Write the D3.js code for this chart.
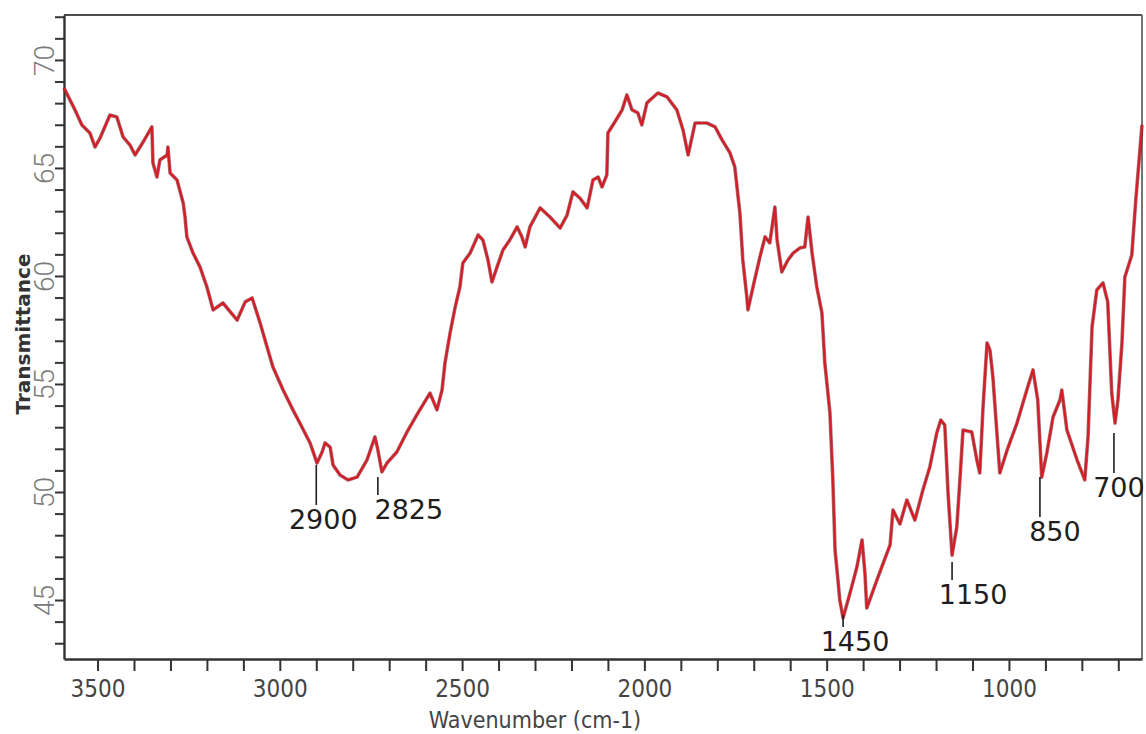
<!DOCTYPE html>
<html>
<head>
<meta charset="utf-8">
<script src="https://cdn.jsdelivr.net/npm/d3@7/dist/d3.min.js"></script>
<style>
  html, body { margin: 0; padding: 0; background: #fff; }
  svg { display: block; }
</style>
</head>
<body>
<script>
// FTIR spectrum: transmittance (%) against wavenumber (cm-1)
const wavenumber = [
  3592, 3562, 3543, 3521, 3507, 3493, 3466, 3447, 3430, 3411,
  3397, 3375, 3351, 3348, 3337, 3329, 3309, 3307, 3301, 3282,
  3265, 3260, 3255, 3238, 3219, 3200, 3183, 3156, 3117, 3095,
  3076, 3054, 3035, 3019, 2991, 2964, 2945, 2917, 2898, 2884,
  2876, 2862, 2854, 2835, 2813, 2788, 2761, 2739, 2731, 2720,
  2706, 2679, 2651, 2621, 2588, 2569, 2555, 2547, 2533, 2519,
  2506, 2498, 2478, 2456, 2443, 2429, 2418, 2404, 2388, 2369,
  2349, 2336, 2327, 2314, 2286, 2259, 2231, 2212, 2196, 2177,
  2157, 2141, 2127, 2116, 2103, 2100, 2081, 2061, 2048, 2034,
  2018, 2007, 1993, 1963, 1938, 1911, 1894, 1880, 1861, 1828,
  1806, 1787, 1765, 1752, 1746, 1738, 1730, 1719, 1716, 1702,
  1683, 1669, 1656, 1642, 1636, 1623, 1606, 1592, 1573, 1560,
  1551, 1540, 1527, 1513, 1505, 1491, 1483, 1477, 1469, 1464,
  1455, 1436, 1417, 1403, 1395, 1390, 1362, 1326, 1318, 1299,
  1280, 1258, 1236, 1217, 1198, 1187, 1176, 1167, 1156, 1143,
  1134, 1126, 1102, 1088, 1080, 1071, 1060, 1052, 1044, 1033,
  1025, 1005, 978, 951, 934, 921, 910, 896, 879, 860,
  855, 841, 813, 792, 783, 772, 759, 742, 729, 718,
  709, 701, 690, 682, 663, 652, 635
];
const transmittance = [
  68.70, 67.69, 66.99, 66.62, 65.97, 66.39, 67.45, 67.36, 66.44, 66.06,
  65.60, 66.20, 66.90, 65.23, 64.58, 65.37, 65.60, 65.97, 64.77, 64.44,
  63.38, 62.73, 61.81, 61.06, 60.42, 59.49, 58.43, 58.75, 57.96, 58.80,
  58.98, 57.82, 56.71, 55.79, 54.72, 53.80, 53.19, 52.27, 51.34, 51.85,
  52.27, 52.08, 51.25, 50.79, 50.56, 50.69, 51.48, 52.55, 51.94, 50.93,
  51.34, 51.85, 52.78, 53.66, 54.58, 53.80, 54.72, 55.97, 57.36, 58.56,
  59.49, 60.60, 61.06, 61.90, 61.67, 60.74, 59.72, 60.42, 61.20, 61.67,
  62.27, 61.81, 61.34, 62.27, 63.15, 62.73, 62.22, 62.82, 63.89, 63.61,
  63.15, 64.44, 64.58, 64.12, 64.68, 66.62, 67.13, 67.69, 68.38, 67.69,
  67.55, 66.99, 68.01, 68.47, 68.29, 67.69, 66.76, 65.60, 67.08, 67.08,
  66.90, 66.30, 65.69, 65.05, 64.12, 62.92, 60.74, 59.03, 58.43, 59.49,
  60.88, 61.81, 61.53, 63.19, 61.67, 60.19, 60.74, 61.06, 61.30, 61.34,
  62.73, 61.06, 59.49, 58.29, 55.97, 53.66, 50.56, 47.31, 45.93, 45.00,
  44.17, 45.32, 46.53, 47.78, 46.25, 44.63, 45.93, 47.55, 49.17, 48.52,
  49.63, 48.70, 50.09, 51.16, 52.73, 53.33, 53.10, 49.95, 47.08, 48.38,
  50.69, 52.87, 52.78, 51.48, 50.88, 53.94, 56.90, 56.57, 55.32, 52.73,
  50.88, 51.94, 53.19, 54.72, 55.65, 54.26, 50.69, 51.81, 53.47, 54.26,
  54.72, 52.87, 51.48, 50.56, 52.55, 57.64, 59.35, 59.68, 58.80, 54.58,
  53.19, 54.26, 56.90, 59.95, 60.97, 63.52, 66.99
];

// Band assignments marked on the spectrum
const peakLabels = ["2900", "2825", "1450", "1150", "850", "700"];
const peakWavenumber = [2900, 2731, 1455, 1156, 915, 712];
const leaderTop = [51.25, 50.69, 44.31, 46.76, 50.69, 52.73];
const leaderBottom = [49.40, 49.86, 43.75, 45.93, 48.84, 50.88];

// Axis ticks
const xTickValues = d3.range(3500, 699, -100);
const xTickLabels = [3500, 3000, 2500, 2000, 1500, 1000];
const yTickValues = d3.range(43, 73, 1);
const yTickLabels = [45, 50, 55, 60, 65, 70];

// ---- layout ----
const W = 1146, H = 734;
const plot = { left: 64, right: 1142, top: 15, bottom: 659 };
const labelShift = [7, 31, 12, 21, 15, 5];

const svg = d3.select("body").append("svg")
  .attr("width", W).attr("height", H)
  .style("background", "#fff");

const x = d3.scaleLinear().domain([3592, 635]).range([plot.left, plot.right]);
const y = d3.scaleLinear().domain([42.27, 72.08]).range([plot.bottom, plot.top]);

// frame (top and right)
svg.append("line")
  .attr("x1", plot.left).attr("x2", plot.right)
  .attr("y1", plot.top).attr("y2", plot.top)
  .attr("stroke", "#4d4d4d").attr("stroke-width", 2.2);
svg.append("line")
  .attr("x1", plot.right).attr("x2", plot.right)
  .attr("y1", plot.top).attr("y2", plot.bottom)
  .attr("stroke", "#666").attr("stroke-width", 1.8);

// x axis
const xAxis = svg.append("g")
  .attr("transform", `translate(0,${plot.bottom})`)
  .call(d3.axisBottom(x)
    .tickValues(xTickValues)
    .tickSize(12)
    .tickSizeOuter(0)
    .tickFormat(d => xTickLabels.includes(d) ? String(d) : ""));
xAxis.select(".domain").attr("stroke", "#333").attr("stroke-width", 2.4);
xAxis.selectAll(".tick line").attr("stroke", "#333").attr("stroke-width", 2);
xAxis.selectAll(".tick text")
  .attr("y", 38).attr("dy", 0)
  .style("font-family", "'Liberation Sans Narrow', 'DejaVu Sans Condensed', sans-serif")
  .style("font-size", "24px")
  .attr("fill", "#444");

// y axis
const yAxis = svg.append("g")
  .attr("transform", `translate(${plot.left},0)`)
  .call(d3.axisLeft(y)
    .tickValues(yTickValues)
    .tickSize(9)
    .tickSizeOuter(0)
    .tickFormat(d => yTickLabels.includes(d) ? String(d) : ""));
yAxis.select(".domain").attr("stroke", "#333").attr("stroke-width", 2.4);
yAxis.selectAll(".tick line").attr("stroke", "#333").attr("stroke-width", 2);
yAxis.selectAll(".tick text")
  .attr("x", 0).attr("y", 0).attr("dy", 0)
  .attr("text-anchor", "middle")
  .attr("transform", "translate(-10,0) rotate(-90)")
  .style("font-family", "Roboto, 'DejaVu Sans', sans-serif")
  .style("font-weight", 300)
  .style("font-size", "28px")
  .attr("fill", "#7a7a7a");

// axis titles
svg.append("text")
  .attr("x", 535).attr("y", 728)
  .attr("text-anchor", "middle")
  .style("font-family", "'Liberation Sans Narrow', 'DejaVu Sans Condensed', sans-serif")
  .style("font-size", "23px")
  .attr("fill", "#444")
  .text("Wavenumber (cm-1)");

svg.append("text")
  .attr("transform", "translate(30,334) rotate(-90)")
  .attr("text-anchor", "middle")
  .style("font-family", "'DejaVu Sans', sans-serif")
  .style("font-weight", "bold")
  .style("font-size", "20px")
  .attr("fill", "#333")
  .text("Transmittance");

// spectrum trace: dark edge under a red core
const points = wavenumber.map((w, i) => [w, transmittance[i]]);
const line = d3.line().x(d => x(d[0])).y(d => y(d[1]));

svg.append("path")
  .datum(points)
  .attr("d", line)
  .attr("fill", "none")
  .attr("stroke", "#6e141b")
  .attr("stroke-width", 3.6)
  .attr("stroke-linejoin", "round")
  .attr("opacity", 0.6);
svg.append("path")
  .datum(points)
  .attr("d", line)
  .attr("fill", "none")
  .attr("stroke", "#d41e27")
  .attr("stroke-width", 2.2)
  .attr("stroke-linejoin", "round");

// band markers
const marks = svg.append("g");
peakLabels.forEach((lab, i) => {
  const px = x(peakWavenumber[i]);
  marks.append("line")
    .attr("x1", px).attr("x2", px)
    .attr("y1", y(leaderTop[i])).attr("y2", y(leaderBottom[i]))
    .attr("stroke", "#1e1e1e").attr("stroke-width", 1.6);
  marks.append("text")
    .attr("x", px + labelShift[i])
    .attr("y", y(leaderBottom[i]) + 24)
    .attr("text-anchor", "middle")
    .style("font-family", "'DejaVu Sans', sans-serif")
    .style("font-size", "27px")
    .attr("fill", "#1e1e1e")
    .text(lab);
});
</script>
</body>
</html>
